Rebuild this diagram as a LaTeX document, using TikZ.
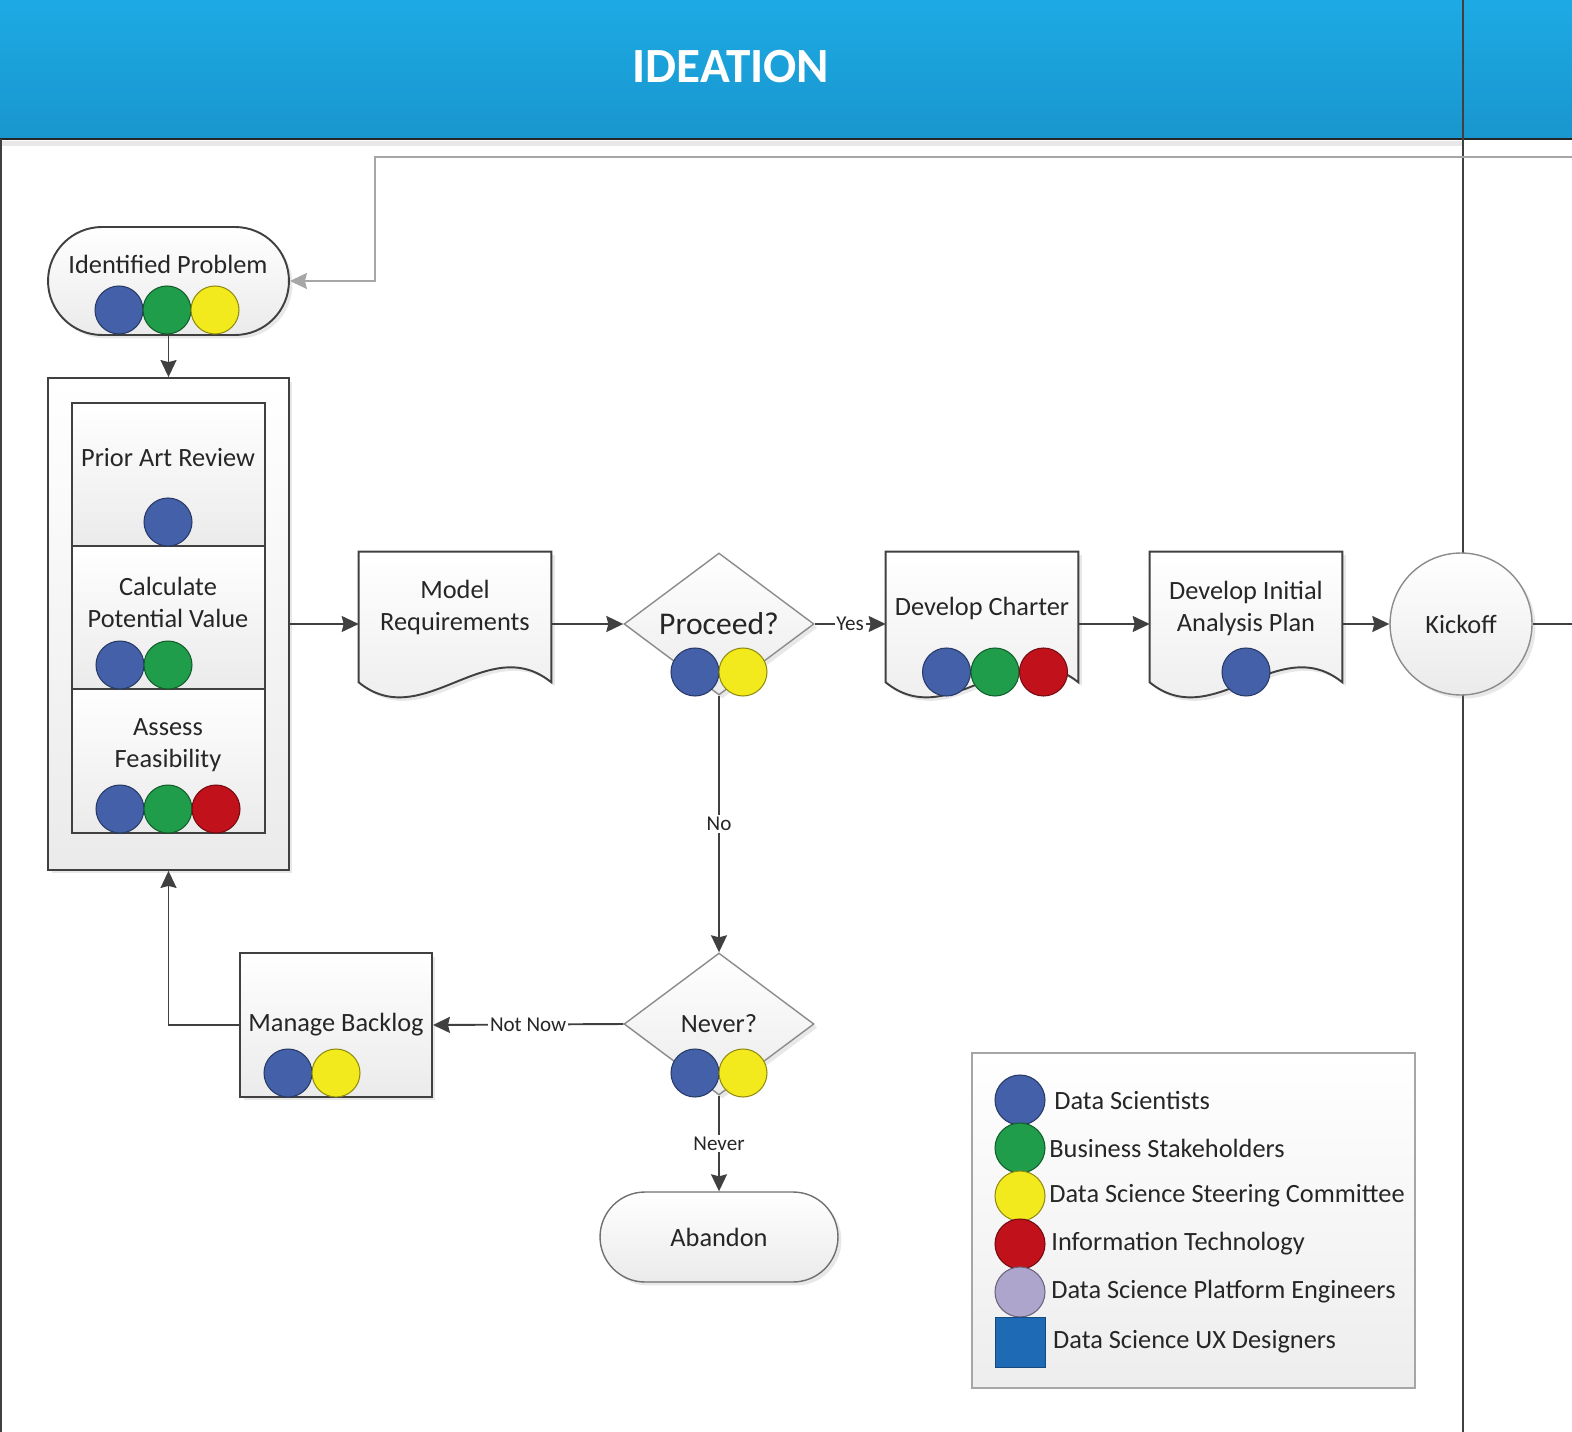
\documentclass[tikz,border=0pt]{standalone}
\usepackage{fontspec}
\setmainfont{Carlito}
\usetikzlibrary{arrows.meta,shapes.geometric,shadows,positioning}

\definecolor{headtop}{HTML}{1DAAE4}
\definecolor{headbottom}{HTML}{1996CE}
\definecolor{linegray}{HTML}{404040}
\definecolor{edgegray}{HTML}{8C8C8C}
\definecolor{returngray}{HTML}{A6A6A6}
\definecolor{textdark}{HTML}{262626}
\definecolor{dsblue}{HTML}{4360A8}
\definecolor{bsgreen}{HTML}{1F9D4A}
\definecolor{sscyellow}{HTML}{F2EA1C}
\definecolor{itred}{HTML}{C1121C}
\definecolor{pelav}{HTML}{ADA5CB}
\definecolor{uxblue}{HTML}{1E6AB4}

\tikzset{
    flowbox/.style={draw=linegray,line width=1.1pt,top color=white,bottom color=black!8,inner sep=0pt,align=center,
        text=textdark,font=\fontsize{15}{18.2}\selectfont},
    shadowed/.style={drop shadow={opacity=0.18,shadow xshift=0.07cm,shadow yshift=-0.07cm}},
    docnode/.style={minimum width=3.84cm,minimum height=2.6cm,inner sep=0pt},
    docline/.style={draw=linegray,line width=1.1pt,top color=white,bottom color=black!8,shadowed},
    decision/.style={diamond,draw=edgegray,line width=0.8pt,top color=white,bottom color=black!8,inner sep=0pt,
        minimum width=3.8cm,minimum height=2.84cm,text=textdark,font=\fontsize{15}{18}\selectfont,shadowed},
    txt/.style={align=center,inner sep=0pt,text=textdark,font=\fontsize{15}{18.2}\selectfont},
    who/.style={circle,draw=#1!60!black,line width=0.6pt,fill=#1,minimum size=0.96cm,inner sep=0pt},
    conn/.style={draw=linegray,line width=1.1pt,-{Stealth[length=0.34cm,width=0.32cm,inset=0.04cm]}},
    flowlabel/.style={fill=white,inner sep=1pt,text=textdark,font=\fontsize{12}{14}\selectfont},
    keytext/.style={inner sep=2pt,text=textdark,font=\fontsize{15}{18}\selectfont},
}

% document outline with a wavy bottom, drawn round an empty node
\newcommand{\docshape}[1]{\draw[docline] (#1.north west) -- (#1.north east) -- (#1.south east)
    .. controls +(-64,-52) and +(64,52) .. (#1.south west) -- cycle;}

\begin{document}
\begin{tikzpicture}[x=0.02cm,y=-0.02cm]
    \useasboundingbox (0,0) rectangle (1572,1432);

    %lane header
    \fill[top color=headtop,bottom color=headbottom] (0,0) rectangle (1572,139);
    \fill[black!9] (2,141) rectangle (1463,146);
    \draw[black!85,line width=1.2pt] (0,139) -- (1572,139);
    \draw[linegray,line width=0.7pt] (1463,0) -- (1463,1432);
    \draw[linegray,line width=0.7pt] (1,139) -- (1,1432);
    \node[text=white,font=\bfseries\fontsize{28}{30}\selectfont] (phase) at (731,67) {IDEATION};

    %identified problem
    \node[flowbox,shadowed,rounded corners=1.08cm,minimum width=4.82cm,minimum height=2.16cm] (ip) at (168.5,281) {};
    \node[txt] (iptxt) at (168,264) {Identified Problem};

    %review group
    \node[flowbox,shadowed,minimum width=4.82cm,minimum height=9.84cm] (review) at (168.5,624) {};
    \node[flowbox,minimum width=3.86cm,minimum height=2.86cm] (par) at (168.5,474.5) {};
    \node[txt] (partxt) at (168,458) {Prior Art Review};
    \node[flowbox,minimum width=3.86cm,minimum height=2.86cm] (cpv) at (168.5,617.5) {};
    \node[txt] (cpvtxt) at (168,602) {Calculate\\Potential Value};
    \node[flowbox,minimum width=3.86cm,minimum height=2.88cm] (af) at (168.5,761) {};
    \node[txt] (aftxt) at (168,745) {Assess\\Feasibility};

    %model requirements
    \node[docnode] (mr) at (455,617) {};
    \docshape{mr}
    \node[txt] (mrtxt) at (455,607) {Model\\Requirements};

    %proceed decision
    \node[decision,font=\fontsize{18}{20}\selectfont] (proceed) at (719,624) {Proceed?};

    %charter and plan
    \node[docnode] (dc) at (982,617) {};
    \docshape{dc}
    \node[txt] (dctxt) at (982,608) {Develop Charter};
    \node[docnode] (diap) at (1246,617) {};
    \docshape{diap}
    \node[txt] (diaptxt) at (1246,608) {Develop Initial\\Analysis Plan};

    %kickoff
    \node[circle,draw=edgegray,line width=0.8pt,top color=white,bottom color=black!8,shadowed,minimum size=2.84cm,
        inner sep=0pt,txt] (kickoff) at (1461,624) {Kickoff};
    \coordinate (next) at (1572,624);

    %never decision, backlog, abandon
    \node[decision] (never) at (719,1024) {Never?};
    \node[flowbox,shadowed,minimum width=3.84cm,minimum height=2.88cm] (mb) at (336,1025) {Manage Backlog};
    \node[flowbox,shadowed,draw=edgegray!80!black,line width=0.8pt,rounded corners=0.9cm,minimum width=4.76cm,
        minimum height=1.8cm] (abandon) at (719,1237) {Abandon};

    %arrows
    \coordinate (back) at (1572,157);
    \coordinate (backbend) at (375,157);
    \draw[draw=returngray,line width=1.1pt,-{Stealth[length=0.34cm,width=0.32cm,inset=0.04cm]}] (back) -- (backbend) |- (ip.east);
    \draw[conn] (ip.south) -- (review.north);
    \draw[conn] (review.east) -- (review.east -| mr.west);
    \draw[conn] (mr.east |- proceed) -- (proceed.west);
    \draw[conn] (proceed.east) -- node[flowlabel] (yes) {Yes} (proceed -| dc.west);
    \draw[conn] (dc.east |- proceed) -- (diap.west |- proceed);
    \draw[conn] (diap.east |- kickoff) -- (kickoff.west);
    \draw[linegray,line width=1.1pt] (kickoff.east) -- (next);
    \draw[conn] (proceed.south) -- node[flowlabel] (no) {No} (never.north);
    \draw[conn] (never.west) -- node[flowlabel] (notnow) {Not Now} (mb.east);
    \draw[conn] (never.south) -- node[flowlabel] (neverlbl) {Never} (abandon.north);
    \draw[conn] (mb.west) -| (review.south);

    %who is involved
    \foreach \c [count=\i] in {dsblue,bsgreen,sscyellow}
        \node[who=\c] (ip-\i) at ({71+48*\i},310) {};
    \node[who=dsblue] (par-1) at (168,522) {};
    \foreach \c [count=\i] in {dsblue,bsgreen}
        \node[who=\c] (cpv-\i) at ({72+48*\i},665) {};
    \foreach \c [count=\i] in {dsblue,bsgreen,itred}
        \node[who=\c] (af-\i) at ({72+48*\i},809) {};
    \foreach \c [count=\i] in {dsblue,sscyellow}
        \node[who=\c] (proceed-\i) at ({647+48*\i},672) {};
    \foreach \c [count=\i] in {dsblue,bsgreen,itred}
        \node[who=\c] (dc-\i) at ({898+48.5*\i},672) {};
    \node[who=dsblue] (diap-1) at (1246,672) {};
    \foreach \c [count=\i] in {dsblue,sscyellow}
        \node[who=\c] (never-\i) at ({647+48*\i},1073) {};
    \foreach \c [count=\i] in {dsblue,sscyellow}
        \node[who=\c] (mb-\i) at ({240+48*\i},1073) {};

    %legend
    \node[draw=returngray,line width=0.8pt,top color=white,bottom color=black!7,minimum width=8.86cm,minimum height=6.7cm]
        (legend) at (1193.5,1220.5) {};
    \foreach \c/\t/\s [count=\i] in {dsblue/Data Scientists/5,bsgreen/Business Stakeholders/0,
        sscyellow/Data Science Steering Committee/0,itred/Information Technology/2,pelav/Data Science Platform Engineers/2} {
        \node[who=\c,minimum size=1cm] (key-\i) at (1020,{1052+48*\i}) {};
        \node[keytext,right=\s*0.02cm of key-\i] (keytxt-\i) {\t};
    }
    \node[draw=uxblue!70!black,fill=uxblue,minimum size=1cm,inner sep=0pt] (key-6) at (1020,1342) {};
    \node[keytext,right=0.08cm of key-6] (keytxt-6) {Data Science UX Designers};
\end{tikzpicture}
\end{document}
